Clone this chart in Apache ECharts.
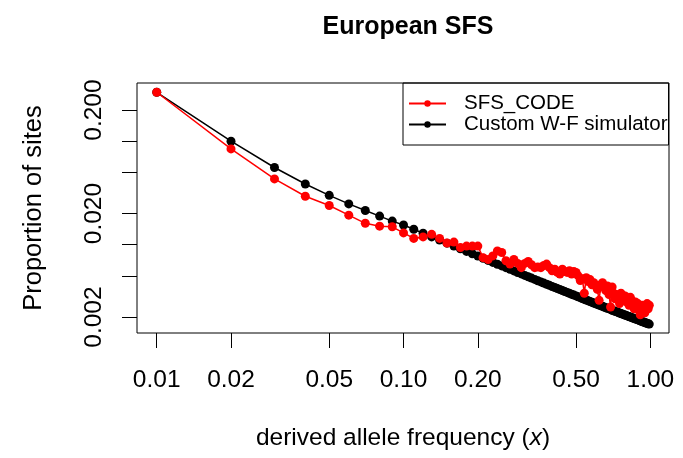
<!DOCTYPE html>
<html>
<head>
<meta charset="utf-8">
<script src="https://cdn.jsdelivr.net/npm/echarts@6/dist/echarts.min.js"></script>
<style>html,body{margin:0;padding:0;background:#fff}#c{width:683px;height:458px}</style>
</head>
<body>
<div id="c"></div>
<script>
const freq = [0.01,0.02,0.03,0.04,0.05,0.06,0.07,0.08,0.09,0.10,
0.11,0.12,0.13,0.14,0.15,0.16,0.17,0.18,0.19,0.20,
0.21,0.22,0.23,0.24,0.25,0.26,0.27,0.28,0.29,0.30,
0.31,0.32,0.33,0.34,0.35,0.36,0.37,0.38,0.39,0.40,
0.41,0.42,0.43,0.44,0.45,0.46,0.47,0.48,0.49,0.50,
0.51,0.52,0.53,0.54,0.55,0.56,0.57,0.58,0.59,0.60,
0.61,0.62,0.63,0.64,0.65,0.66,0.67,0.68,0.69,0.70,
0.71,0.72,0.73,0.74,0.75,0.76,0.77,0.78,0.79,0.80,
0.81,0.82,0.83,0.84,0.85,0.86,0.87,0.88,0.89,0.90,
0.91,0.92,0.93,0.94,0.95,0.96,0.97,0.98,0.99];

const sfsCode = [0.297,0.0843,0.0432,0.0294,0.0239,0.0193,0.0161,0.0151,0.0149,0.0130,
0.0115,0.0119,0.0126,0.0115,0.0104,0.0106,0.0094,0.0097,0.0097,0.0097,
0.0075,0.0072,0.0078,0.0087,0.0084,0.0070,0.0065,0.0072,0.0066,0.0060,
0.0066,0.0069,0.0064,0.0060,0.0061,0.0060,0.0063,0.0065,0.0060,0.0056,
0.0058,0.0054,0.0052,0.0058,0.0055,0.0054,0.0056,0.0052,0.0055,0.0054,
0.0050,0.0045,0.0047,0.0034,0.0048,0.0044,0.0046,0.0041,0.0043,0.0040,
0.0037,0.0029,0.0041,0.0043,0.0039,0.0036,0.0040,0.0033,0.0025,0.0039,
0.0034,0.0030,0.0033,0.0031,0.0027,0.0034,0.0029,0.0032,0.0032,0.0028,
0.0030,0.0026,0.0031,0.0029,0.0027,0.0024,0.0028,0.0025,0.0027,0.0023,
0.0021,0.0024,0.0026,0.0023,0.0022,0.0025,0.0027,0.0024,0.0026];

const customWF = [0.297,0.100,0.0557,0.0386,0.0300,0.0248,0.0214,0.0189,0.0169,0.0155,
0.0141,0.0129,0.0119,0.0111,0.01035,0.0097,0.00913,0.00862,0.00817,0.00777,
0.00739,0.00705,0.00675,0.00647,0.00624,0.0060,0.00578,0.00558,0.00539,0.00522,
0.00505,0.0049,0.00476,0.00462,0.00449,0.00437,0.00426,0.00415,0.00405,0.00395,
0.00386,0.00377,0.00369,0.00361,0.00353,0.00346,0.00339,0.00332,0.00326,0.0032,
0.00314,0.00308,0.00302,0.00297,0.00292,0.00287,0.00282,0.00278,0.00273,0.00269,
0.00265,0.00261,0.00257,0.00254,0.0025,0.00246,0.00243,0.0024,0.00237,0.00233,
0.0023,0.00227,0.00225,0.00222,0.00219,0.00216,0.00214,0.00211,0.00209,0.00207,
0.00204,0.00202,0.0020,0.00198,0.00196,0.00193,0.00192,0.0019,0.00188,0.00186,
0.00184,0.00182,0.0018,0.00179,0.00177,0.00175,0.00174,0.00172,0.00171];

const xTicks = [0.01,0.02,0.05,0.10,0.20,0.50,1.00];
const yTicks = [0.002,0.005,0.01,0.02,0.05,0.1,0.2];
const yLabels = [0.002,0.020,0.200];

const FONT = "'Liberation Sans', Arial, Helvetica, sans-serif";
const chart = echarts.init(document.getElementById('c'), null, {renderer:'canvas'});

function pairs(ys){ return freq.map((x,i)=>[x, ys[i]]); }

chart.setOption({
  animation: false,
  backgroundColor: '#fff',
  title: {
    text: 'European SFS', left: 403, top: 10, textAlign: 'center',
    textStyle: {fontFamily: FONT, fontWeight: 'bold', fontSize: 25, color: '#000'}
  },
  legend: {
    left: 403, top: 83, orient: 'vertical',
    padding: [10, 1, 10, 5],
    itemWidth: 37, itemHeight: 8, itemGap: 0,
    borderColor: '#000', borderWidth: 1,
    textStyle: {fontFamily: FONT, fontSize: 20.5, color: '#000', lineHeight: 20, padding: [0,0,0,13]},
    data: ['SFS_CODE', 'Custom W-F simulator']
  },
  grid: {left: 137, top: 83, right: 14, bottom: 125, show: true, borderColor: '#000', borderWidth: 1, backgroundColor: 'transparent'},
  xAxis: {
    type: 'log', logBase: 10, min: 0.00832, max: 1.19,
    name: 'derived allele frequency ({i|x})', nameLocation: 'middle', nameGap: 93,
    nameTextStyle: {fontFamily: FONT, fontSize: 24.5, color: '#000',
      rich: {i: {fontStyle: 'italic', fontFamily: FONT, fontSize: 24.5, color: '#000'}}},
    axisLine: {show: false},
    axisTick: {show: true, length: 15, lineStyle: {color: '#000', width: 1}, customValues: xTicks},
    axisLabel: {show: true, margin: 35, fontFamily: FONT, fontSize: 24.5, color: '#000',
      customValues: xTicks, formatter: v => Number(v).toFixed(2)},
    splitLine: {show: false}, minorTick: {show: false}
  },
  yAxis: {
    type: 'log', logBase: 10, min: 0.001403, max: 0.365,
    name: 'Proportion of sites', nameLocation: 'middle', nameGap: 90,
    nameTextStyle: {fontFamily: FONT, fontSize: 25.5, color: '#000'},
    axisLine: {show: false},
    axisTick: {show: true, length: 15, lineStyle: {color: '#000', width: 1}, customValues: yTicks},
    axisLabel: {show: true, rotate: 90, margin: 30, fontFamily: FONT, fontSize: 24.5, color: '#000',
      customValues: yLabels, formatter: v => Number(v).toFixed(3)},
    splitLine: {show: false}, minorTick: {show: false}
  },
  series: [
    {
      name: 'Custom W-F simulator', type: 'line', data: pairs(customWF),
      symbol: 'circle', symbolSize: 9, showSymbol: true,
      lineStyle: {color: '#000', width: 1.5}, itemStyle: {color: '#000'},
      z: 2
    },
    {
      name: 'SFS_CODE', type: 'line', data: pairs(sfsCode),
      symbol: 'circle', symbolSize: 9, showSymbol: true,
      lineStyle: {color: '#ff0000', width: 1.5}, itemStyle: {color: '#ff0000'},
      z: 3
    }
  ]
});
</script>
</body>
</html>
